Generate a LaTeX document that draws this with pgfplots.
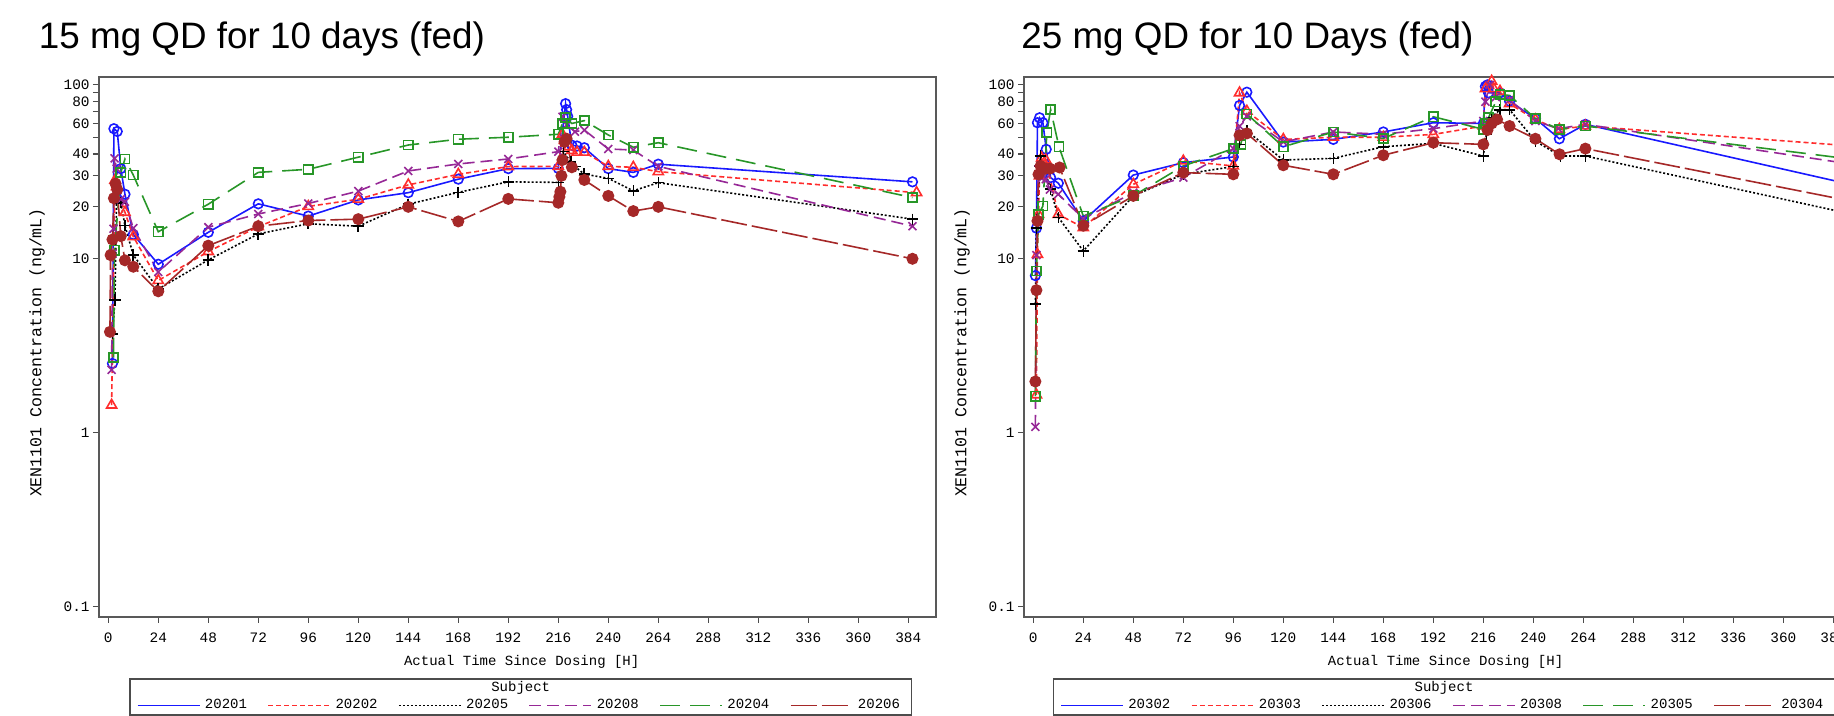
\documentclass[border=0pt]{standalone}
\usepackage{fontspec}
\setmainfont{Liberation Sans}
\setmonofont{Liberation Mono}
\usepackage{pgfplots}
\pgfplotsset{compat=1.18}

\definecolor{cBlue}{RGB}{25,25,255}
\definecolor{cRed}{RGB}{255,45,45}
\definecolor{cPurple}{RGB}{150,40,150}
\definecolor{cGreen}{RGB}{40,150,40}
\definecolor{cBrown}{RGB}{165,40,40}

\newcommand{\tickfont}{\ttfamily\fontsize{7.2}{8}\selectfont}
\newcommand{\legfont}{\ttfamily\fontsize{7}{8}\selectfont}

\tikzset{
  s1/.style={color=cBlue, solid, line width=0.8pt, mark=o, mark size=2.4pt, mark options={solid}},
  s2/.style={color=cRed, line width=0.8pt, dash pattern=on 2.5pt off 1.5pt, mark=triangle, mark size=2.9pt, mark options={solid}},
  s3/.style={color=black, line width=0.8pt, dash pattern=on 1pt off 1pt, mark=+, mark size=2.8pt, mark options={solid}},
  s4/.style={color=cPurple, line width=0.8pt, dash pattern=on 6pt off 3pt, mark=x, mark size=2.8pt, mark options={solid}},
  s5/.style={color=cGreen, line width=0.8pt, dash pattern=on 10pt off 5pt, mark=square, mark size=2.3pt, mark options={solid}},
  s6/.style={color=cBrown, line width=0.8pt, dash pattern=on 13pt off 2.5pt, mark=*, mark size=2.6pt, mark options={solid}},
}

\begin{document}
\begin{tikzpicture}

% ---------------- 15 mg ----------------
\begin{axis}[
    at={(49.5pt,49.5pt)}, anchor=south west,
    scale only axis,
    width=418.5pt, height=269.85pt,
    ymode=log,
    xmin=-4.46, xmax=397.3,
    ymin=0.0871, ymax=110.6,
    xtick={0,24,48,72,96,120,144,168,192,216,240,264,288,312,336,360,384},
    xticklabels={0,24,48,72,96,120,144,168,192,216,240,264,288,312,336,360,384},
    ytick={0.1,1,10,20,30,40,50,60,70,80,90,100},
    yticklabels={0.1,1,10,20,30,40,,60,,80,,100},
    yminorticks=false,
    xtick pos=bottom, ytick pos=left,
    tick align=outside,
    major tick length=3pt,
    tick style={black!70, line width=0.6pt},
    axis line style={black!65, line width=0.9pt},
    ticklabel style={font=\tickfont},
    xticklabel style={yshift=-1.5pt},
    yticklabel style={inner xsep=1.5pt},
    xlabel={Actual Time Since Dosing [H]},
    ylabel={XEN1101 Concentration (ng/mL)},
    xlabel style={font=\ttfamily\fontsize{7}{8}\selectfont, at={(axis description cs:0.505,-0.0826)}, anchor=center},
    ylabel style={font=\ttfamily\fontsize{8.3}{9}\selectfont, at={(axis description cs:-0.0741,0.49)}, anchor=center},
    legend columns=6,
    legend image code/.code={\draw[#1] (0pt,0pt) -- (31pt,0pt);},
    legend style={draw=none, fill=none, anchor=center, font=\legfont,
      at={(axis description cs:0.5038,-0.1642)},
      /tikz/every even column/.append style={column sep=8pt},
      nodes={inner xsep=2.25pt, inner ysep=0.5pt}},
  ]

\addplot[s1] coordinates {(2,2.5) (2.7,56) (4.3,54) (6,33) (8,23.5) (12,13.8) (24,9.3)
  (48,14.2) (72,20.7) (96,17.6) (120,21.8) (144,24) (168,28.7) (192,33) (216,33.1)
  (219.5,78) (220,72) (220.5,66) (222.5,45) (225,44.5) (228.5,43.5) (240,33) (252,31.4)
  (264,35) (386,27.7)};

\addplot[s2] coordinates {(1.6,1.44) (3.2,28.3) (4,26) (8,18.5) (12,13.4) (24,7.5)
  (48,11) (72,15.3) (96,20) (120,22) (144,26.6) (168,30.6) (192,33.9) (216,34)
  (218,52) (219,48) (221,44) (222.5,42) (225,41) (228.5,41) (240,34) (252,33.6)
  (264,31.7) (388,24)};

\addplot[s3] coordinates {(2,3.7) (3.2,5.8) (4,22) (6,21) (8,15.5) (12,10.5) (24,6.7)
  (48,9.85) (72,13.9) (96,15.9) (120,15.4) (144,20.6) (168,24.1) (192,27.7) (216,27.5)
  (218.4,41.3) (222,36) (224,33.9) (228.4,30.7) (240,29) (252,24.6) (264,27.4) (386,16.9)};

\addplot[s4] coordinates {(1.6,2.3) (2,10.7) (2.5,14.9) (3,37.8) (4,33) (6,22) (8,21.3)
  (12,15) (24,8.4) (48,15.2) (72,18.1) (96,20.8) (120,24.5) (144,32) (168,35.1)
  (192,37.5) (216,41.3) (218,65.6) (220,58.8) (224,53.8) (228.5,55) (240,42.8)
  (252,42.2) (264,34) (386,15.4)};

\addplot[s5] coordinates {(2.5,2.7) (3,11.2) (6,31.3) (8,37.5) (12,30.3) (24,14.3)
  (48,20.6) (72,31.4) (96,32.7) (120,38.4) (144,45.1) (168,48.7) (192,50) (216,52)
  (218,60) (219.5,65) (222.5,60) (228.5,62.3) (240,51.5) (252,43.8) (264,46.5) (386,22.5)};

\addplot[s6] coordinates {(0.8,3.8) (1.1,10.5) (2,12.9) (2.7,22.3) (3.5,27) (4.3,25)
  (6,13.5) (8,9.8) (12,9) (24,6.5) (48,11.9) (72,15.4) (96,16.6) (120,16.9) (144,19.9)
  (168,16.4) (192,22.1) (216,21) (216.5,22.7) (217,24.3) (217.5,30) (218,37) (219,47)
  (220,49) (222.5,33.6) (228.5,28.4) (240,23) (252,18.8) (264,19.9) (386,10)};

\legend{20201,20202,20205,20208,20204,20206}
\end{axis}

% ---------------- 25 mg ----------------
\begin{axis}[
    at={(512pt,49.5pt)}, anchor=south west,
    scale only axis,
    width=418.5pt, height=269.85pt,
    ymode=log,
    xmin=-4.46, xmax=397.3,
    ymin=0.0871, ymax=110.6,
    xtick={0,24,48,72,96,120,144,168,192,216,240,264,288,312,336,360,384},
    xticklabels={0,24,48,72,96,120,144,168,192,216,240,264,288,312,336,360,384},
    ytick={0.1,1,10,20,30,40,50,60,70,80,90,100},
    yticklabels={0.1,1,10,20,30,40,,60,,80,,100},
    yminorticks=false,
    xtick pos=bottom, ytick pos=left,
    tick align=outside,
    major tick length=3pt,
    tick style={black!70, line width=0.6pt},
    axis line style={black!65, line width=0.9pt},
    ticklabel style={font=\tickfont},
    xticklabel style={yshift=-1.5pt},
    yticklabel style={inner xsep=1.5pt},
    xlabel={Actual Time Since Dosing [H]},
    ylabel={XEN1101 Concentration (ng/mL)},
    xlabel style={font=\ttfamily\fontsize{7}{8}\selectfont, at={(axis description cs:0.5037,-0.0826)}, anchor=center},
    ylabel style={font=\ttfamily\fontsize{8.3}{9}\selectfont, at={(axis description cs:-0.0741,0.49)}, anchor=center},
    legend columns=6,
    legend image code/.code={\draw[#1] (0pt,0pt) -- (31pt,0pt);},
    legend style={draw=none, fill=none, anchor=center, font=\legfont,
      at={(axis description cs:0.5018,-0.1642)},
      /tikz/every even column/.append style={column sep=8pt},
      nodes={inner xsep=2.25pt, inner ysep=0.5pt}},
  ]

\addplot[s1] coordinates {(1,8) (1.5,15) (2,60.6) (3,64.7) (4.6,60.6) (6.2,42.6)
  (8.3,29.3) (12,27.2) (24,16.5) (48,30.3) (72,35.7) (96,38.5) (99,76.2) (102.5,90.8)
  (120,46.9) (144,48.6) (168,53.6) (192,60.6) (216,60) (217,98) (218,100) (218.5,90)
  (224,90) (228.6,80.6) (241,64) (252.5,49) (265,59.3) (388,27.5)};

\addplot[s2] coordinates {(1.5,1.65) (2,10.6) (2.5,18) (3,30) (4,38) (6,37) (12,18)
  (24,15.1) (48,26.8) (72,36.5) (96,34.2) (99,90) (102.5,70.6) (120,48.6) (144,50)
  (168,50) (192,51.9) (216,58) (217,95) (220,105) (221,95) (224,92) (228.6,78)
  (241,63) (252.5,55.5) (265,58) (388,45)};

\addplot[s3] coordinates {(1,5.5) (1.5,15) (3,34.2) (3.5,39) (8.3,25.1) (12,17.3)
  (24,11.1) (48,23) (72,30.6) (96,33.9) (99,45.5) (102.5,54.3) (120,37) (144,37.8)
  (168,44.1) (192,46.1) (216,39) (217.5,52) (220,65) (224,72) (228.6,72) (241,47.5)
  (253,39) (265,39) (388,18.6)};

\addplot[s4] coordinates {(1,1.08) (1.5,10.5) (2.5,32.7) (4,29) (6,28.7) (8,25)
  (12,23.5) (24,17) (48,24) (72,29.3) (96,43) (99,57.9) (102.5,66) (120,47) (144,53.6)
  (168,52) (192,56) (216,62) (217,80) (219,100) (222,85) (228.6,82) (241,62) (252,56)
  (265,59.3) (388,35.7)};

\addplot[s5] coordinates {(1,1.62) (1.5,8.5) (2.5,18) (4.6,20.1) (6.5,53.1) (8.3,72.3)
  (12.3,44.1) (24,17.6) (48,23) (72,34.2) (96,43) (99.6,45.5) (102.5,68) (120,44.1)
  (144,53.6) (168,49.2) (192,65.6) (216,55.5) (217,60) (218.5,64.8) (222,80) (224,88)
  (228.6,87) (241,64) (252.5,55.5) (265,58) (388,38)};

\addplot[s6] coordinates {(1,1.97) (1.5,6.6) (2,16.5) (2.5,30.6) (3.5,34.2) (6,33)
  (8,33) (12.6,33.5) (24,15.5) (48,23) (72,31.3) (96,30.6) (99,51.3) (102.5,52.6)
  (120,34.5) (144,30.6) (168,39.4) (192,46.5) (216,45.5) (218,55) (220,60) (222.6,63.3)
  (228.6,58) (241,49) (252.6,39.9) (265,43) (388,22)};

\legend{20302,20303,20306,20308,20305,20304}
\end{axis}

% titles
\node[anchor=west, inner sep=0pt, font=\fontsize{18.4}{22}\selectfont] at (19.3pt,338.7pt) {15 mg QD for 10 days (fed)};
\node[anchor=west, inner sep=0pt, font=\fontsize{18.4}{22}\selectfont] at (510.5pt,338.7pt) {25 mg QD for 10 Days (fed)};

% legend frames and titles
\draw[black!70, line width=0.6pt] (65pt,0.5pt) rectangle (455.7pt,18.5pt);
\node[font=\legfont, inner sep=0pt] at (260.35pt,14pt) {Subject};
\draw[black!70, line width=0.6pt] (526.8pt,0.5pt) rectangle (918pt,18.5pt);
\node[font=\legfont, inner sep=0pt] at (722pt,14pt) {Subject};

\pgfresetboundingbox
\path[use as bounding box] (0pt,0pt) rectangle (917pt,358pt);
\end{tikzpicture}
\end{document}
